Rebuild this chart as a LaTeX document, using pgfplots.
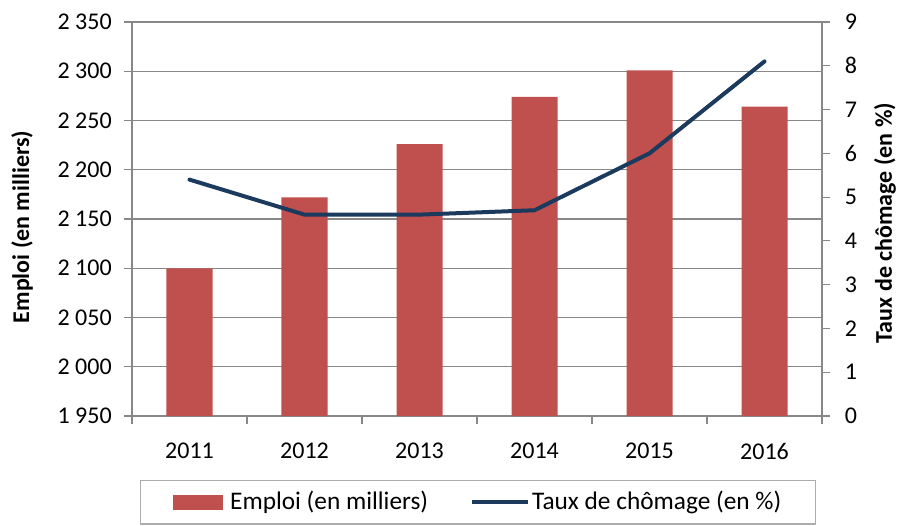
\documentclass[border=0pt]{standalone}
\usepackage{pgfplots}
\pgfplotsset{compat=1.18}
\usepackage{fontspec}
\setmainfont{Carlito}
\definecolor{barred}{HTML}{C0504D}
\definecolor{navy}{HTML}{1B3A5E}
\definecolor{gridgray}{HTML}{888888}
\begin{document}
\begin{tikzpicture}
\fontsize{18}{21.6}\selectfont
\path[use as bounding box] (-99pt,-81.75pt) rectangle (579.75pt,312pt);
\begin{axis}[
  at={(0,0)}, anchor=south west,
  scale only axis, width=517.5pt, height=295.5pt,
  ymin=1950, ymax=2350, ytick={1950,2000,...,2350},
  xmin=-0.5, xmax=5.5,
  xtick={0,...,5}, xticklabels={2011,2012,2013,2014,2015,2016},
  minor xtick={-0.5,0.5,...,5.5},
  major x tick style={draw=none},
  tick align=outside,
  major tick length=6pt, minor tick length=6pt,
  tick style={gridgray, line width=0.8pt},
  ymajorgrids, grid style={gridgray, line width=0.8pt},
  axis line style={gridgray, line width=0.8pt},
  axis y line*=left, axis x line*=bottom,
  /pgf/number format/assume math mode=true,
  /pgf/number format/1000 sep={\ },
  yticklabel style={font=\fontsize{18}{21.6}\selectfont, xshift=-3pt},
  xticklabel style={font=\fontsize{18}{21.6}\selectfont, yshift=-8pt},
  ylabel={\bfseries Emploi (en milliers)},
  ylabel style={at={(axis description cs:-0.1594,0.48)}, anchor=center, font=\fontsize{18}{21.6}\selectfont},
  legend style={at={(axis description cs:0.502,-0.1624)}, anchor=north, draw=gridgray!70, line width=0.8pt,
    legend columns=2, inner xsep=24pt, inner ysep=6pt, font=\fontsize{19}{22.8}\selectfont,
    /tikz/every even column/.append style={column sep=29pt}},
]
\addplot[ybar, bar width=34.5pt, fill=barred, draw=none,
  legend image code/.code={\fill[barred] (0pt,-5.5pt) rectangle (38pt,5.5pt); \path (41pt,0pt);}]
  coordinates {(0,2100) (1,2172) (2,2226) (3,2274) (4,2301) (5,2264)};
\addlegendentry{Emploi (en milliers)}
\addlegendimage{navy, line width=3pt, legend image code/.code={\draw[navy, line width=3pt] (0pt,0pt) -- (42pt,0pt);}}
\addlegendentry{Taux de chômage (en \%)}
\end{axis}
\begin{axis}[
  at={(0,0)}, anchor=south west,
  scale only axis, width=517.5pt, height=295.5pt,
  xmin=-0.5, xmax=5.5, ymin=0, ymax=9, ytick={0,...,9},
  axis y line*=right, axis x line=none,
  tick align=outside, major tick length=6pt,
  tick style={gridgray, line width=0.8pt},
  axis line style={gridgray, line width=0.8pt},
  /pgf/number format/assume math mode=true,
  yticklabel style={font=\fontsize{18}{21.6}\selectfont, xshift=5pt},
  ylabel={\bfseries Taux de chômage (en \%)},
  ylabel style={at={(axis description cs:1.0913,0.49)}, anchor=center, rotate=0, font=\fontsize{18}{21.6}\selectfont},
]
\addplot[navy, line width=3pt, line join=round, line cap=round]
  coordinates {(0,5.4) (1,4.6) (2,4.6) (3,4.7) (4,6.0) (5,8.1)};
\end{axis}
\end{tikzpicture}
\end{document}
